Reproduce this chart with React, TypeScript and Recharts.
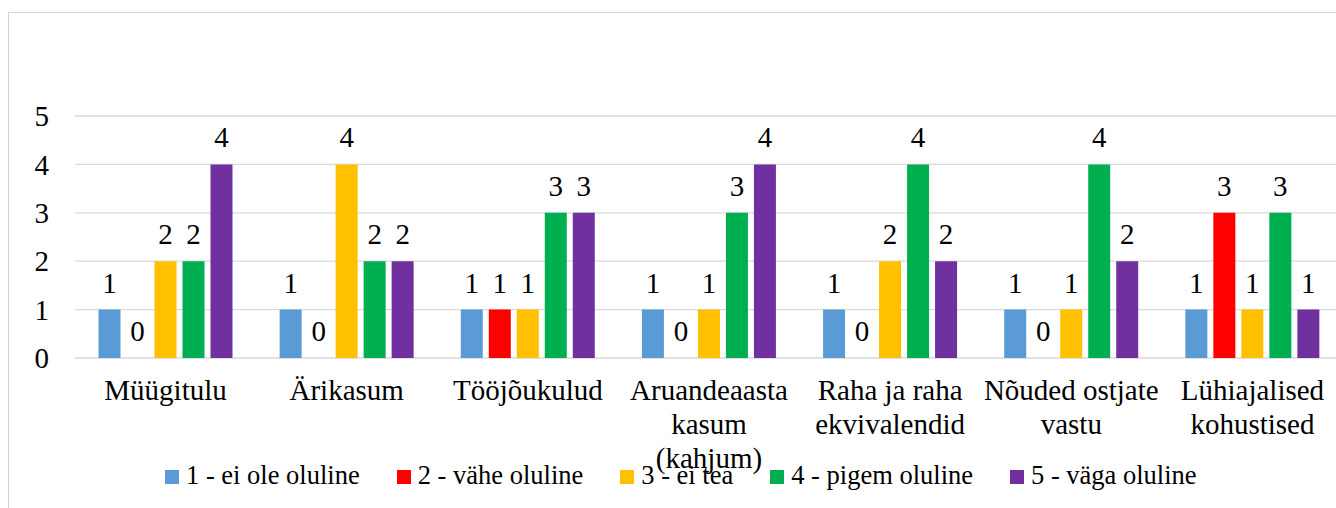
import { BarChart, Bar, XAxis, YAxis, CartesianGrid, Legend, LabelList } from "recharts";

const FONT = '"Liberation Serif", "Times New Roman", serif';

// categories (line breaks as in the original axis labels)
const categories = [
  "Müügitulu",
  "Ärikasum",
  "Tööjõukulud",
  "Aruandeaasta\nkasum\n(kahjum)",
  "Raha ja raha\nekvivalendid",
  "Nõuded ostjate\nvastu",
  "Lühiajalised\nkohustised",
];

const eiOleOluline = [1, 1, 1, 1, 1, 1, 1];
const vaheOluline = [0, 0, 1, 0, 0, 0, 3];
const eiTea = [2, 4, 1, 1, 2, 1, 1];
const pigemOluline = [2, 2, 3, 3, 4, 4, 3];
const vagaOluline = [4, 2, 3, 4, 2, 2, 1];

const seriesNames = [
  "1 - ei ole oluline",
  "2 - vähe oluline",
  "3 - ei tea",
  "4 - pigem oluline",
  "5 - väga oluline",
];
const seriesColors = ["#5B9BD5", "#FF0000", "#FFC000", "#00B050", "#7030A0"];
const yTicks = [0, 1, 2, 3, 4, 5];

const data = categories.map((name, i) => ({
  name,
  s1: eiOleOluline[i],
  s2: vaheOluline[i],
  s3: eiTea[i],
  s4: pigemOluline[i],
  s5: vagaOluline[i],
}));

const CategoryTick = (props: any) => {
  const { x, y, payload } = props;
  const lines = String(payload.value).split("\n");
  return (
    <text x={x} y={y} textAnchor="middle" fontFamily={FONT} fontSize={29} fill="#000">
      {lines.map((line: string, i: number) => (
        <tspan key={i} x={x} dy={34}>
          {line}
        </tspan>
      ))}
    </text>
  );
};

// value label above each bar, also for zero-height bars
const ValueLabel = (props: any) => {
  const { x, y, width, value } = props;
  if (value === undefined || value === null) return null;
  return (
    <text
      x={Number(x) + Number(width) / 2}
      y={Number(y) - 17}
      textAnchor="middle"
      fontFamily={FONT}
      fontSize={29}
      fill="#000"
    >
      {String(value)}
    </text>
  );
};

const renderLegend = (props: any) => {
  const { payload } = props;
  return (
    <div
      style={{
        display: "flex",
        alignItems: "center",
        height: 30,
        paddingLeft: 157,
        fontFamily: FONT,
        fontSize: 26.5,
        color: "#000",
        whiteSpace: "nowrap",
      }}
    >
      {(payload || []).map((entry: any, i: number) => (
        <div key={i} style={{ display: "flex", alignItems: "center", marginRight: 37 }}>
          <span
            style={{
              display: "inline-block",
              width: 14,
              height: 14,
              background: entry.color,
              marginRight: 7,
              position: "relative",
              top: 2,
            }}
          />
          <span>{entry.value}</span>
        </div>
      ))}
    </div>
  );
};

const keys = ["s1", "s2", "s3", "s4", "s5"];

export default function App() {
  return (
    <div
      style={{
        position: "fixed",
        left: 0,
        top: 0,
        width: 1336,
        height: 508,
        overflow: "hidden",
        background: "#fff",
      }}
    >
      <div
        style={{
          position: "absolute",
          left: 8,
          top: 12,
          width: 1500,
          height: 700,
          border: "1px solid #d4d4d4",
        }}
      />
      <div style={{ position: "absolute", left: 8, top: 8 }}>
        <BarChart
          width={1340}
          height={500}
          data={data}
          margin={{ top: 108, right: 5, bottom: 18, left: 0 }}
          barCategoryGap={23.5}
          barGap={6}
        >
          <CartesianGrid vertical={false} stroke="#d9d9d9" strokeWidth={1.3} />
          <XAxis
            dataKey="name"
            height={102}
            interval={0}
            tickLine={false}
            axisLine={false}
            tick={<CategoryTick />}
          />
          <YAxis
            width={67}
            domain={[0, 5]}
            ticks={yTicks}
            tickLine={false}
            axisLine={false}
            tickMargin={20}
            tick={{ fontFamily: FONT, fontSize: 29, fill: "#000" }}
          />
          <Legend verticalAlign="bottom" content={renderLegend} />
          {keys.map((k, i) => (
            <Bar
              key={k}
              dataKey={k}
              name={seriesNames[i]}
              fill={seriesColors[i]}
              minPointSize={0.01}
              isAnimationActive={false}
            >
              <LabelList dataKey={k} content={<ValueLabel />} />
            </Bar>
          ))}
        </BarChart>
      </div>
    </div>
  );
}
